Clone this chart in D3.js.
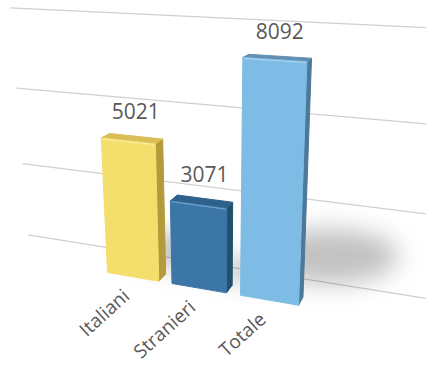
<!DOCTYPE html>
<html>
<head>
<meta charset="utf-8">
<script src="https://cdn.jsdelivr.net/npm/d3@7"></script>
<style>
  html, body { margin: 0; padding: 0; background: #fff; }
  svg { display: block; }
  text { font-family: "Open Sans", "Noto Sans", sans-serif; fill: #595959; }
</style>
</head>
<body>
<svg id="chart" width="426" height="366"></svg>
<script>
// Data
const categories = ["Italiani", "Stranieri", "Totale"];
const values = [5021, 3071, 8092];
const yTicks = [0, 3000, 6000, 9000];

// Colours per bar: front, top and right-side faces
const frontColors = ["#F4DE6C", "#3B76A6", "#7EBCE5"];
const topColors = ["#D8BE55", "#2E628D", "#6390B2"];
const sideColors = ["#B39A3B", "#21506F", "#4C7899"];
const edgeLights = ["#FBEFA6", "#79AAD2", "#B4DBF3"];

const W = 426, H = 366;
const svg = d3.select("#chart");

// World space: X along the categories, Y up (value), Z toward the viewer.
// The back wall lies at Z = 0 and the floor at Y = 0.
const wallHeight = 258;
const y = d3.scaleLinear().domain([0, 9000]).range([0, wallHeight]);
const x = d3.scaleBand().domain(categories).range([-108, 108])
  .paddingInner(0.2).paddingOuter(0.1);
const zFront = 55, zBack = 38;
const wallLeft = -232, wallRight = 340;

// Perspective camera orbiting the wall centre
const cam = (() => {
  const yaw = 20 * Math.PI / 180, pitch = 17 * Math.PI / 180;
  const dist = 770, focal = 770, cx = 218, cy = 147.5;
  const target = [0, wallHeight / 2, 0];
  const f = [-Math.sin(yaw) * Math.cos(pitch), -Math.sin(pitch), -Math.cos(yaw) * Math.cos(pitch)];
  const r = [Math.cos(yaw), 0, -Math.sin(yaw)];
  const u = [-Math.sin(yaw) * Math.sin(pitch), Math.cos(pitch), -Math.cos(yaw) * Math.sin(pitch)];
  const dot = (a, b) => a[0] * b[0] + a[1] * b[1] + a[2] * b[2];
  return p => {
    const q = [p[0] - target[0], p[1] - target[1], p[2] - target[2]];
    const zc = dist + dot(q, f);
    return [cx + focal * dot(q, r) / zc, cy - focal * dot(q, u) / zc];
  };
})();

const poly = pts => "M" + pts.map(p => cam(p).map(v => v.toFixed(2)).join(",")).join("L") + "Z";

// Soft shadow filter
const defs = svg.append("defs");
defs.append("filter").attr("id", "soft").attr("x", "-60%").attr("y", "-80%")
  .attr("width", "220%").attr("height", "260%")
  .append("feGaussianBlur").attr("stdDeviation", 12);
defs.append("filter").attr("id", "bevel").attr("x", "-5%").attr("y", "-5%")
  .attr("width", "110%").attr("height", "110%")
  .append("feGaussianBlur").attr("stdDeviation", 0.6);

// Back-wall gridlines
svg.append("g").selectAll("line").data(yTicks).join("line")
  .each(function (t) {
    const a = cam([wallLeft, y(t), 0]), b = cam([wallRight, y(t), 0]);
    d3.select(this).attr("x1", a[0]).attr("y1", a[1]).attr("x2", b[0]).attr("y2", b[1]);
  })
  .attr("stroke", "#CFCFCF").attr("stroke-width", 1.3);

const bars = categories.map((c, i) => ({
  c, v: values[i], i,
  x0: x(c), x1: x(c) + x.bandwidth(), xc: x(c) + x.bandwidth() / 2, h: y(values[i])
}));

// Shadows cast behind and to the right of each bar
svg.append("g").attr("filter", "url(#soft)").selectAll("ellipse").data(bars).join("ellipse")
  .each(function (d) {
    const p = cam([d.x1 + 0.1 * d.h, 0.2 * d.h, zBack]);
    d3.select(this).attr("cx", p[0]).attr("cy", p[1])
      .attr("rx", 0.3 * d.h).attr("ry", 0.12 * d.h);
  })
  .attr("fill", "#000").attr("opacity", 0.24);

// Bars: right side, top and front faces
const gBars = svg.append("g");
bars.forEach(d => {
  const g = gBars.append("g");
  g.append("path").attr("d", poly([[d.x1, 0, zFront], [d.x1, 0, zBack], [d.x1, d.h, zBack], [d.x1, d.h, zFront]]))
    .attr("fill", sideColors[d.i]).attr("stroke", sideColors[d.i]).attr("stroke-width", 1).attr("stroke-linejoin", "round");
  g.append("path").attr("d", poly([[d.x0, d.h, zFront], [d.x1, d.h, zFront], [d.x1, d.h, zBack], [d.x0, d.h, zBack]]))
    .attr("fill", topColors[d.i]).attr("stroke", topColors[d.i]).attr("stroke-width", 1).attr("stroke-linejoin", "round");
  g.append("path").attr("d", poly([[d.x0, 0, zFront], [d.x1, 0, zFront], [d.x1, d.h, zFront], [d.x0, d.h, zFront]]))
    .attr("fill", frontColors[d.i]).attr("stroke", frontColors[d.i]).attr("stroke-width", 1).attr("stroke-linejoin", "round");
  // light bevel along the front top edge
  const a = cam([d.x0, d.h, zFront]), b = cam([d.x1, d.h, zFront]);
  g.append("line").attr("x1", a[0] + 1).attr("y1", a[1] + 0.8).attr("x2", b[0] - 1).attr("y2", b[1] + 0.8)
    .attr("stroke", edgeLights[d.i]).attr("stroke-width", 1.2).attr("opacity", 0.8).attr("filter", "url(#bevel)");
});

// Value labels above each bar
svg.append("g").selectAll("text").data(bars).join("text")
  .each(function (d) {
    const p = cam([d.xc, d.h, zBack]);
    d3.select(this).attr("x", p[0]).attr("y", p[1] - 17);
  })
  .attr("text-anchor", "middle").attr("font-size", 21)
  .text(d => d.v);

// Category labels, slanted
svg.append("g").selectAll("text").data(bars).join("text")
  .each(function (d) {
    const p = cam([d.xc, 0, zFront]);
    const px = p[0] - 2, py = p[1] + 21;
    d3.select(this).attr("transform", `translate(${px},${py}) rotate(-42)`);
  })
  .attr("text-anchor", "end").attr("font-size", 19)
  .text(d => d.c);
</script>
</body>
</html>
